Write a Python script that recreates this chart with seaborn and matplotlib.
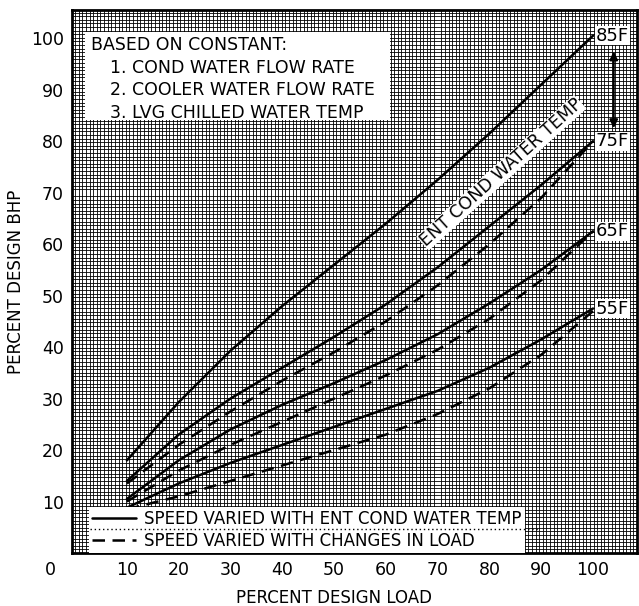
import numpy as np
import pandas as pd
import matplotlib
matplotlib.use("Agg")
import matplotlib.pyplot as plt
from matplotlib.lines import Line2D
from matplotlib.patches import Rectangle
from matplotlib.ticker import MultipleLocator
import seaborn as sns

# percent design load (x)
load = [10, 20, 30, 40, 50, 60, 70, 80, 90, 100]

# percent design bhp, speed varied with ent cond water temp (solid)
bhp_85 = [18, 29.3, 39.3, 48, 56, 64, 72.5, 81.5, 91, 100.5]
bhp_75 = [14, 23, 30, 36, 42, 48.3, 55.5, 63.5, 71.5, 80]
bhp_65 = [10.5, 18, 24, 28.8, 33, 37.5, 42.5, 48.5, 55, 62.5]
bhp_55 = [8.8, 13.5, 17.5, 21, 24.5, 28, 31.5, 36, 41.5, 47.5]

# speed varied with changes in load (dashed)
bhp_75_load = [13.5, 21, 27.5, 33.5, 39, 45, 52, 60, 69, 80]
bhp_65_load = [10, 16, 21, 25.5, 30, 34.5, 39.5, 45.5, 53, 62.5]
bhp_55_load = [8.5, 11, 14, 17, 20, 23, 27, 32, 38.5, 47]

temps = ["85F", "75F", "65F", "55F"]
ticks = [10, 20, 30, 40, 50, 60, 70, 80, 90, 100]
notes = ["BASED ON CONSTANT:", "1. COND WATER FLOW RATE",
         "2. COOLER WATER FLOW RATE", "3. LVG CHILLED WATER TEMP"]
legend_labels = ["SPEED VARIED WITH ENT COND WATER TEMP",
                 "SPEED VARIED WITH CHANGES IN LOAD"]

series = [("85F", "temp", bhp_85), ("75F", "temp", bhp_75),
          ("65F", "temp", bhp_65), ("55F", "temp", bhp_55),
          ("75F", "load", bhp_75_load), ("65F", "load", bhp_65_load),
          ("55F", "load", bhp_55_load)]
rows = []
for t, mode, vals in series:
    for x, y in zip(load, vals):
        rows.append({"load": x, "bhp": y, "temp": t, "mode": mode, "curve": t + mode})
df = pd.DataFrame(rows)

sns.set_theme(style="white")
plt.rcParams["font.family"] = ["DejaVu Sans"]
plt.rcParams["text.color"] = "black"
plt.rcParams["axes.labelcolor"] = "black"
plt.rcParams["xtick.color"] = "black"
plt.rcParams["ytick.color"] = "black"

fig = plt.figure(figsize=(6.39, 6.06), dpi=100)
ax = fig.add_axes([0.1127, 0.0875, 0.8842, 0.896])

sns.lineplot(data=df, x="load", y="bhp", units="curve", style="mode",
             dashes={"temp": "", "load": (5, 3)}, color="black",
             estimator=None, lw=1.8, legend=False, ax=ax, zorder=3)

ax.set_xlim(-0.6, 108.5)
ax.set_ylim(0, 105.5)
ax.set_xticks(ticks)
ax.set_yticks(ticks)
ax.xaxis.set_minor_locator(MultipleLocator(0.7))
ax.yaxis.set_minor_locator(MultipleLocator(0.7))
ax.set_axisbelow(True)
ax.grid(which="minor", color="black", lw=0.6)
ax.grid(which="major", visible=False)
ax.tick_params(which="both", length=0, labelsize=12.5)
ax.tick_params(axis="x", pad=6)
ax.tick_params(axis="y", pad=6)
for s in ax.spines.values():
    s.set_color("black")
    s.set_linewidth(2)

ax.set_xlabel("PERCENT DESIGN LOAD", fontsize=12, x=0.464, labelpad=7)
ax.set_ylabel("PERCENT DESIGN BHP", fontsize=12, labelpad=4)
ax.text(-0.039, -0.032, "0", transform=ax.transAxes, ha="center", va="center",
        fontsize=12.5)

# note box, top left
ax.add_patch(Rectangle((0.023, 0.797), 0.54, 0.162, transform=ax.transAxes,
                       facecolor="white", edgecolor="none", zorder=2))
ax.text(0.033, 0.935, notes[0], transform=ax.transAxes, fontsize=12.5,
        ha="left", va="center", zorder=4)
for i, line in enumerate(notes[1:]):
    ax.text(0.068, 0.893 - i * 0.041, line, transform=ax.transAxes, fontsize=12.5,
            ha="left", va="center", zorder=4)

# curve labels at 100 % load
ends = {"85F": bhp_85[-1], "75F": bhp_75[-1], "65F": bhp_65[-1], "55F": bhp_55[-1]}
for t in temps:
    ax.annotate(t, xy=(100, ends[t]), xytext=(2, 0), textcoords="offset points",
                ha="left", va="center", fontsize=13, zorder=4,
                bbox=dict(facecolor="white", edgecolor="none", pad=0.5))
ax.annotate("", xy=(104, ends["75F"] + 2), xytext=(104, ends["85F"] - 2.5),
            arrowprops=dict(arrowstyle="<|-|>", color="black", lw=1.5,
                            mutation_scale=12), zorder=4)

ax.text(82.3, 73.9, "ENT COND WATER TEMP", rotation=42, rotation_mode="anchor",
        ha="center", va="center", fontsize=12.5, zorder=4,
        bbox=dict(facecolor="white", edgecolor="none", pad=0.3))

handles = [Line2D([], [], color="black", lw=1.8),
           Line2D([], [], color="black", lw=1.8, dashes=(5, 3))]
leg = ax.legend(handles, legend_labels, loc="lower left", bbox_to_anchor=(0.03, 0.0),
                borderaxespad=0, borderpad=0.2, handlelength=2.6, handletextpad=0.5,
                labelspacing=0.2, fontsize=12, frameon=True, fancybox=False,
                facecolor="white", edgecolor="none", framealpha=1)
leg.set_zorder(5)
sep = Line2D([0.032, 0.828], [0.044, 0.044], transform=ax.transAxes,
             color="black", lw=1, ls=(0, (1, 2)), zorder=6)
ax.add_artist(sep)

fig.savefig("out.png", dpi=100, facecolor="white")
